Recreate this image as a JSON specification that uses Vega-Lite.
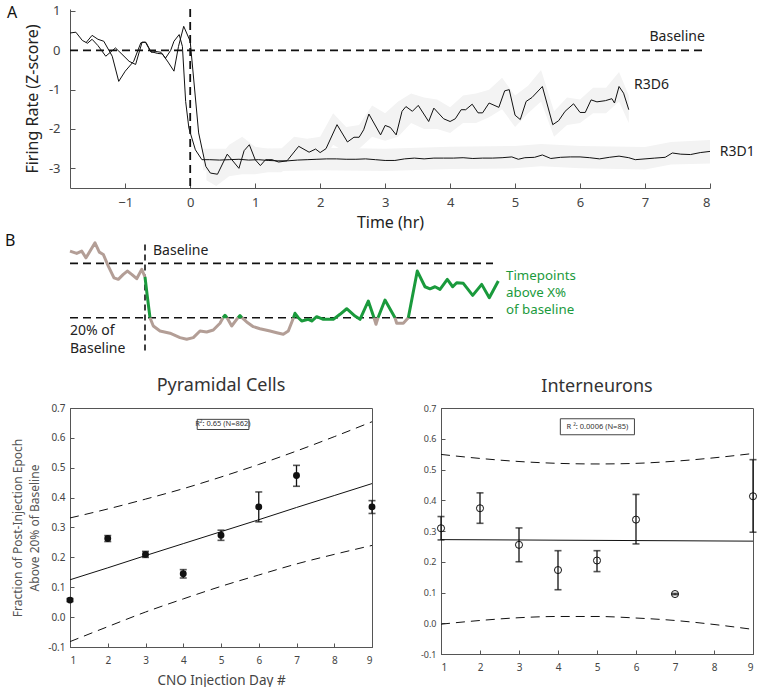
{
  "$schema": "https://vega.github.io/schema/vega-lite/v6.json",
  "padding": {"left": 5, "top": 4, "right": 0, "bottom": 0},
  "config": {
    "font": "Noto Sans",
    "view": {"stroke": null},
    "axis": {"grid": false, "domainColor": "#555", "tickColor": "#555", "labelColor": "#444", "titleColor": "#222", "titleFontWeight": "normal"},
    "title": {"fontWeight": "normal", "color": "#333"}
  },
  "datasets": {
    "d6": [
      {"t": -1.6, "v": 0.2}, {"t": -1.51, "v": 0.38}, {"t": -1.42, "v": 0.28}, {"t": -1.33, "v": 0.23}, {"t": -1.2, "v": -0.15}, {"t": -1.1, "v": -0.79}, {"t": -1.0, "v": -0.53}, {"t": -0.87, "v": -0.28}, {"t": -0.76, "v": 0.19}, {"t": -0.69, "v": 0.21}, {"t": -0.61, "v": -0.03}, {"t": -0.5, "v": -0.08}, {"t": -0.43, "v": -0.09}, {"t": -0.34, "v": -0.3}, {"t": -0.25, "v": -0.53}, {"t": -0.18, "v": 0.1}, {"t": -0.1, "v": 0.61}, {"t": 0.0, "v": 0.23}, {"t": 0.13, "v": -2.1}, {"t": 0.24, "v": -2.95}, {"t": 0.31, "v": -3.12}, {"t": 0.42, "v": -3.15}, {"t": 0.57, "v": -2.64}, {"t": 0.75, "v": -3.0}, {"t": 0.83, "v": -2.55}, {"t": 0.91, "v": -2.4}, {"t": 1.0, "v": -2.78}, {"t": 1.08, "v": -2.93}, {"t": 1.16, "v": -2.78}, {"t": 1.26, "v": -2.78}, {"t": 1.36, "v": -2.84}, {"t": 1.49, "v": -2.81}, {"t": 1.67, "v": -2.44}, {"t": 1.83, "v": -2.59}, {"t": 1.93, "v": -2.51}, {"t": 2.0, "v": -2.6}, {"t": 2.09, "v": -2.5}, {"t": 2.26, "v": -1.89}, {"t": 2.42, "v": -2.33}, {"t": 2.52, "v": -2.21}, {"t": 2.6, "v": -2.21}, {"t": 2.67, "v": -2.02}, {"t": 2.75, "v": -1.62}, {"t": 2.93, "v": -2.15}, {"t": 3.0, "v": -1.91}, {"t": 3.08, "v": -1.96}, {"t": 3.17, "v": -2.15}, {"t": 3.26, "v": -1.55}, {"t": 3.32, "v": -1.43}, {"t": 3.42, "v": -1.55}, {"t": 3.51, "v": -1.4}, {"t": 3.67, "v": -1.81}, {"t": 3.75, "v": -1.47}, {"t": 3.9, "v": -1.74}, {"t": 4.0, "v": -1.81}, {"t": 4.08, "v": -1.74}, {"t": 4.17, "v": -1.51}, {"t": 4.24, "v": -1.51}, {"t": 4.34, "v": -1.37}, {"t": 4.43, "v": -1.59}, {"t": 4.5, "v": -1.59}, {"t": 4.6, "v": -1.34}, {"t": 4.75, "v": -1.45}, {"t": 4.84, "v": -1.03}, {"t": 4.91, "v": -1.0}, {"t": 5.0, "v": -1.65}, {"t": 5.08, "v": -1.76}, {"t": 5.17, "v": -1.3}, {"t": 5.26, "v": -1.2}, {"t": 5.42, "v": -0.92}, {"t": 5.58, "v": -1.89}, {"t": 5.67, "v": -1.79}, {"t": 5.77, "v": -1.55}, {"t": 5.9, "v": -1.36}, {"t": 6.0, "v": -1.58}, {"t": 6.08, "v": -1.58}, {"t": 6.17, "v": -1.26}, {"t": 6.26, "v": -1.31}, {"t": 6.39, "v": -1.28}, {"t": 6.49, "v": -1.23}, {"t": 6.53, "v": -1.34}, {"t": 6.6, "v": -0.92}, {"t": 6.67, "v": -1.09}, {"t": 6.75, "v": -1.51}
    ],
    "d1": [
      {"t": -1.85, "v": 0.44}, {"t": -1.76, "v": 0.46}, {"t": -1.66, "v": 0.25}, {"t": -1.58, "v": 0.18}, {"t": -1.51, "v": 0.28}, {"t": -1.42, "v": 0.12}, {"t": -1.3, "v": -0.15}, {"t": -1.15, "v": 0.06}, {"t": -1.05, "v": -0.1}, {"t": -0.94, "v": -0.28}, {"t": -0.84, "v": -0.36}, {"t": -0.74, "v": 0.21}, {"t": -0.68, "v": 0.2}, {"t": -0.6, "v": -0.05}, {"t": -0.53, "v": -0.03}, {"t": -0.45, "v": -0.05}, {"t": -0.38, "v": -0.2}, {"t": -0.3, "v": 0.0}, {"t": -0.25, "v": 0.23}, {"t": -0.17, "v": 0.4}, {"t": -0.12, "v": 0.1}, {"t": -0.07, "v": -1.3}, {"t": -0.02, "v": -1.98}, {"t": 0.08, "v": -2.53}, {"t": 0.18, "v": -2.78}, {"t": 0.3, "v": -2.78}, {"t": 0.45, "v": -2.79}, {"t": 0.6, "v": -2.78}, {"t": 0.75, "v": -2.77}, {"t": 0.9, "v": -2.79}, {"t": 1.05, "v": -2.78}, {"t": 1.2, "v": -2.8}, {"t": 1.35, "v": -2.81}, {"t": 1.5, "v": -2.81}, {"t": 1.65, "v": -2.79}, {"t": 1.8, "v": -2.78}, {"t": 1.95, "v": -2.77}, {"t": 2.1, "v": -2.76}, {"t": 2.25, "v": -2.76}, {"t": 2.4, "v": -2.77}, {"t": 2.55, "v": -2.77}, {"t": 2.7, "v": -2.76}, {"t": 2.85, "v": -2.78}, {"t": 3.0, "v": -2.8}, {"t": 3.15, "v": -2.8}, {"t": 3.3, "v": -2.76}, {"t": 3.45, "v": -2.74}, {"t": 3.6, "v": -2.76}, {"t": 3.75, "v": -2.74}, {"t": 3.9, "v": -2.74}, {"t": 4.05, "v": -2.74}, {"t": 4.2, "v": -2.73}, {"t": 4.35, "v": -2.75}, {"t": 4.5, "v": -2.74}, {"t": 4.65, "v": -2.74}, {"t": 4.8, "v": -2.73}, {"t": 4.95, "v": -2.71}, {"t": 5.05, "v": -2.77}, {"t": 5.15, "v": -2.73}, {"t": 5.3, "v": -2.72}, {"t": 5.42, "v": -2.66}, {"t": 5.55, "v": -2.75}, {"t": 5.7, "v": -2.72}, {"t": 5.85, "v": -2.71}, {"t": 6.0, "v": -2.71}, {"t": 6.15, "v": -2.73}, {"t": 6.3, "v": -2.76}, {"t": 6.45, "v": -2.72}, {"t": 6.6, "v": -2.69}, {"t": 6.75, "v": -2.73}, {"t": 6.85, "v": -2.78}, {"t": 7.0, "v": -2.76}, {"t": 7.15, "v": -2.74}, {"t": 7.31, "v": -2.72}, {"t": 7.42, "v": -2.61}, {"t": 7.55, "v": -2.64}, {"t": 7.7, "v": -2.65}, {"t": 7.85, "v": -2.6}, {"t": 8.0, "v": -2.57}
    ],
    "b6": [
      {"t": 0.25, "lo": -3.3, "hi": -2.6}, {"t": 0.4, "lo": -3.45, "hi": -2.8}, {"t": 0.6, "lo": -3.2, "hi": -2.4}, {"t": 0.8, "lo": -3.15, "hi": -2.2}, {"t": 1.0, "lo": -3.15, "hi": -2.45}, {"t": 1.2, "lo": -3.1, "hi": -2.5}, {"t": 1.4, "lo": -3.1, "hi": -2.5}, {"t": 1.6, "lo": -2.9, "hi": -2.2}, {"t": 1.8, "lo": -2.9, "hi": -2.25}, {"t": 2.0, "lo": -2.9, "hi": -2.2}, {"t": 2.2, "lo": -2.4, "hi": -1.6}, {"t": 2.4, "lo": -2.6, "hi": -1.95}, {"t": 2.6, "lo": -2.5, "hi": -1.9}, {"t": 2.8, "lo": -2.2, "hi": -1.4}, {"t": 3.0, "lo": -2.3, "hi": -1.6}, {"t": 3.2, "lo": -2.2, "hi": -1.3}, {"t": 3.4, "lo": -1.85, "hi": -1.1}, {"t": 3.6, "lo": -2.0, "hi": -1.2}, {"t": 3.8, "lo": -2.0, "hi": -1.25}, {"t": 4.0, "lo": -2.1, "hi": -1.45}, {"t": 4.2, "lo": -1.85, "hi": -1.15}, {"t": 4.4, "lo": -1.85, "hi": -1.1}, {"t": 4.6, "lo": -1.7, "hi": -1.0}, {"t": 4.8, "lo": -1.5, "hi": -0.7}, {"t": 5.0, "lo": -1.95, "hi": -1.15}, {"t": 5.2, "lo": -1.6, "hi": -0.9}, {"t": 5.4, "lo": -1.3, "hi": -0.5}, {"t": 5.6, "lo": -2.2, "hi": -1.55}, {"t": 5.8, "lo": -1.9, "hi": -1.2}, {"t": 6.0, "lo": -1.85, "hi": -1.25}, {"t": 6.2, "lo": -1.6, "hi": -0.95}, {"t": 6.4, "lo": -1.6, "hi": -0.95}, {"t": 6.6, "lo": -1.3, "hi": -0.55}, {"t": 6.75, "lo": -1.85, "hi": -1.15}
    ],
    "b1": [
      {"t": 0.2, "lo": -3.05, "hi": -2.5}, {"t": 1.0, "lo": -3.08, "hi": -2.5}, {"t": 2.0, "lo": -3.05, "hi": -2.48}, {"t": 3.0, "lo": -3.07, "hi": -2.5}, {"t": 4.0, "lo": -3.02, "hi": -2.45}, {"t": 5.0, "lo": -3.0, "hi": -2.43}, {"t": 5.4, "lo": -2.95, "hi": -2.38}, {"t": 6.0, "lo": -3.0, "hi": -2.43}, {"t": 7.0, "lo": -3.03, "hi": -2.46}, {"t": 7.4, "lo": -2.9, "hi": -2.33}, {"t": 8.0, "lo": -2.88, "hi": -2.28}
    ],
    "sch": [
      {"t": -1.5, "v": 1.181, "seg": 1, "c": "below"}, {"t": -1.366, "v": 1.147, "seg": 1, "c": "below"}, {"t": -1.266, "v": 1.181, "seg": 1, "c": "below"}, {"t": -1.18, "v": 1.082, "seg": 1, "c": "below"}, {"t": -1.0, "v": 1.303, "seg": 1, "c": "below"}, {"t": -0.914, "v": 1.166, "seg": 1, "c": "below"}, {"t": -0.834, "v": 1.132, "seg": 1, "c": "below"}, {"t": -0.734, "v": 0.96, "seg": 1, "c": "below"}, {"t": -0.62, "v": 0.788, "seg": 1, "c": "below"}, {"t": -0.534, "v": 0.765, "seg": 1, "c": "below"}, {"t": -0.434, "v": 0.838, "seg": 1, "c": "below"}, {"t": -0.354, "v": 0.887, "seg": 1, "c": "below"}, {"t": -0.266, "v": 0.838, "seg": 1, "c": "below"}, {"t": -0.166, "v": 0.774, "seg": 1, "c": "below"}, {"t": -0.066, "v": 0.912, "seg": 1, "c": "below"}, {"t": 0.0, "v": 0.8, "seg": 1, "c": "below"},
      {"t": 0.0, "v": 0.8, "seg": 2, "c": "above"}, {"t": 0.04, "v": 0.55, "seg": 2, "c": "above"}, {"t": 0.1, "v": 0.2, "seg": 2, "c": "above"},
      {"t": 0.1, "v": 0.2, "seg": 3, "c": "below"}, {"t": 0.166, "v": 0.078, "seg": 3, "c": "below"}, {"t": 0.3, "v": 0.004, "seg": 3, "c": "below"}, {"t": 0.5, "v": -0.029, "seg": 3, "c": "below"}, {"t": 0.7, "v": -0.094, "seg": 3, "c": "below"}, {"t": 0.834, "v": -0.118, "seg": 3, "c": "below"}, {"t": 0.966, "v": -0.094, "seg": 3, "c": "below"}, {"t": 1.1, "v": 0.004, "seg": 3, "c": "below"}, {"t": 1.234, "v": -0.01, "seg": 3, "c": "below"}, {"t": 1.366, "v": 0.019, "seg": 3, "c": "below"}, {"t": 1.5, "v": 0.118, "seg": 3, "c": "below"}, {"t": 1.56, "v": 0.2, "seg": 3, "c": "below"},
      {"t": 1.56, "v": 0.2, "seg": 4, "c": "above"}, {"t": 1.6, "v": 0.235, "seg": 4, "c": "above"}, {"t": 1.64, "v": 0.2, "seg": 4, "c": "above"},
      {"t": 1.64, "v": 0.2, "seg": 5, "c": "below"}, {"t": 1.734, "v": 0.078, "seg": 5, "c": "below"}, {"t": 1.86, "v": 0.2, "seg": 5, "c": "below"},
      {"t": 1.86, "v": 0.2, "seg": 6, "c": "above"}, {"t": 1.9, "v": 0.23, "seg": 6, "c": "above"}, {"t": 1.94, "v": 0.2, "seg": 6, "c": "above"},
      {"t": 1.94, "v": 0.2, "seg": 7, "c": "below"}, {"t": 2.034, "v": 0.137, "seg": 7, "c": "below"}, {"t": 2.166, "v": 0.068, "seg": 7, "c": "below"}, {"t": 2.3, "v": 0.038, "seg": 7, "c": "below"}, {"t": 2.5, "v": 0.004, "seg": 7, "c": "below"}, {"t": 2.634, "v": -0.021, "seg": 7, "c": "below"}, {"t": 2.766, "v": -0.044, "seg": 7, "c": "below"}, {"t": 2.866, "v": 0.004, "seg": 7, "c": "below"}, {"t": 2.97, "v": 0.2, "seg": 7, "c": "below"},
      {"t": 2.97, "v": 0.2, "seg": 8, "c": "above"}, {"t": 3.0, "v": 0.265, "seg": 8, "c": "above"}, {"t": 3.066, "v": 0.2, "seg": 8, "c": "above"}, {"t": 3.134, "v": 0.151, "seg": 8, "c": "above"}, {"t": 3.266, "v": 0.176, "seg": 8, "c": "above"}, {"t": 3.334, "v": 0.151, "seg": 8, "c": "above"}, {"t": 3.434, "v": 0.215, "seg": 8, "c": "above"}, {"t": 3.566, "v": 0.176, "seg": 8, "c": "above"}, {"t": 3.766, "v": 0.176, "seg": 8, "c": "above"}, {"t": 3.9, "v": 0.25, "seg": 8, "c": "above"}, {"t": 4.034, "v": 0.332, "seg": 8, "c": "above"}, {"t": 4.2, "v": 0.225, "seg": 8, "c": "above"}, {"t": 4.3, "v": 0.176, "seg": 8, "c": "above"}, {"t": 4.466, "v": 0.446, "seg": 8, "c": "above"}, {"t": 4.58, "v": 0.2, "seg": 8, "c": "above"},
      {"t": 4.58, "v": 0.2, "seg": 9, "c": "below"}, {"t": 4.62, "v": 0.103, "seg": 9, "c": "below"}, {"t": 4.66, "v": 0.2, "seg": 9, "c": "below"},
      {"t": 4.66, "v": 0.2, "seg": 10, "c": "above"}, {"t": 4.8, "v": 0.46, "seg": 10, "c": "above"}, {"t": 5.0, "v": 0.2, "seg": 10, "c": "above"},
      {"t": 5.0, "v": 0.2, "seg": 11, "c": "below"}, {"t": 5.034, "v": 0.118, "seg": 11, "c": "below"}, {"t": 5.166, "v": 0.118, "seg": 11, "c": "below"}, {"t": 5.266, "v": 0.2, "seg": 11, "c": "below"},
      {"t": 5.266, "v": 0.2, "seg": 12, "c": "above"}, {"t": 5.446, "v": 0.887, "seg": 12, "c": "above"}, {"t": 5.6, "v": 0.656, "seg": 12, "c": "above"}, {"t": 5.7, "v": 0.626, "seg": 12, "c": "above"}, {"t": 5.8, "v": 0.656, "seg": 12, "c": "above"}, {"t": 5.9, "v": 0.618, "seg": 12, "c": "above"}, {"t": 6.046, "v": 0.765, "seg": 12, "c": "above"}, {"t": 6.154, "v": 0.656, "seg": 12, "c": "above"}, {"t": 6.234, "v": 0.715, "seg": 12, "c": "above"}, {"t": 6.366, "v": 0.706, "seg": 12, "c": "above"}, {"t": 6.554, "v": 0.529, "seg": 12, "c": "above"}, {"t": 6.734, "v": 0.691, "seg": 12, "c": "above"}, {"t": 6.886, "v": 0.494, "seg": 12, "c": "above"}, {"t": 7.066, "v": 0.74, "seg": 12, "c": "above"}
    ],
    "pyr": [
      {"day": 1, "m": 0.057, "lo": 0.052, "hi": 0.062}, {"day": 2, "m": 0.263, "lo": 0.253, "hi": 0.273}, {"day": 3, "m": 0.21, "lo": 0.2, "hi": 0.22}, {"day": 4, "m": 0.145, "lo": 0.131, "hi": 0.159}, {"day": 5, "m": 0.274, "lo": 0.257, "hi": 0.291}, {"day": 6, "m": 0.369, "lo": 0.319, "hi": 0.419}, {"day": 7, "m": 0.474, "lo": 0.438, "hi": 0.508}, {"day": 9, "m": 0.369, "lo": 0.347, "hi": 0.39}
    ],
    "pyrfit": [
      {"day": 1, "f": 0.125, "up": 0.332, "lw": -0.082}, {"day": 2, "f": 0.165, "up": 0.362, "lw": -0.032}, {"day": 3, "f": 0.206, "up": 0.395, "lw": 0.017}, {"day": 4, "f": 0.246, "up": 0.43, "lw": 0.061}, {"day": 5, "f": 0.286, "up": 0.469, "lw": 0.103}, {"day": 6, "f": 0.326, "up": 0.511, "lw": 0.141}, {"day": 7, "f": 0.367, "up": 0.556, "lw": 0.178}, {"day": 8, "f": 0.407, "up": 0.604, "lw": 0.21}, {"day": 9, "f": 0.447, "up": 0.654, "lw": 0.24}
    ],
    "int": [
      {"day": 1, "m": 0.309, "lo": 0.271, "hi": 0.347}, {"day": 2, "m": 0.374, "lo": 0.325, "hi": 0.424}, {"day": 3, "m": 0.255, "lo": 0.2, "hi": 0.31}, {"day": 4, "m": 0.173, "lo": 0.109, "hi": 0.236}, {"day": 5, "m": 0.204, "lo": 0.168, "hi": 0.236}, {"day": 6, "m": 0.337, "lo": 0.258, "hi": 0.419}, {"day": 7, "m": 0.095, "lo": 0.093, "hi": 0.097}, {"day": 9, "m": 0.413, "lo": 0.296, "hi": 0.532}
    ],
    "intfit": [
      {"day": 1, "f": 0.272, "up": 0.549, "lw": -0.003}, {"day": 2, "f": 0.2714, "up": 0.536, "lw": 0.009}, {"day": 3, "f": 0.2708, "up": 0.526, "lw": 0.018}, {"day": 4, "f": 0.2701, "up": 0.52, "lw": 0.022}, {"day": 5, "f": 0.2695, "up": 0.518, "lw": 0.022}, {"day": 6, "f": 0.2689, "up": 0.52, "lw": 0.017}, {"day": 7, "f": 0.2683, "up": 0.527, "lw": 0.009}, {"day": 8, "f": 0.2676, "up": 0.538, "lw": -0.004}, {"day": 9, "f": 0.267, "up": 0.552, "lw": -0.02}
    ]
  },
  "spacing": 19,
  "vconcat": [
    {
      "spacing": 3,
      "vconcat": [
        {
          "width": 640,
          "height": 179,
          "encoding": {
            "x": {"type": "quantitative", "scale": {"domain": [-1.85, 8], "nice": false, "zero": false}, "axis": {"values": [-1, 0, 1, 2, 3, 4, 5, 6, 7, 8], "title": "Time (hr)", "titleFontSize": 16, "labelFontSize": 13, "tickSize": -5, "labelPadding": 13, "titlePadding": 5}},
            "y": {"type": "quantitative", "scale": {"domain": [-3.5, 1.05], "nice": false, "zero": false}, "axis": {"values": [-3, -2, -1, 0, 1], "title": "Firing Rate (Z-score)", "titleFontSize": 16, "labelFontSize": 13, "tickSize": -5, "labelPadding": 15, "titlePadding": 8, "labelExpr": "replace(datum.label, '−', '-')"}}
          },
          "layer": [
            {"data": {"name": "b6"}, "mark": {"type": "area", "color": "#f3f3f3"}, "encoding": {"x": {"field": "t"}, "y": {"field": "lo"}, "y2": {"field": "hi"}}},
            {"data": {"name": "b1"}, "mark": {"type": "area", "color": "#f3f3f3"}, "encoding": {"x": {"field": "t"}, "y": {"field": "lo"}, "y2": {"field": "hi"}}},
            {"data": {"values": [{}]}, "mark": {"type": "rule", "strokeDash": [8, 5], "strokeWidth": 1.8, "color": "#111"}, "encoding": {"x": {"datum": -1.85}, "x2": {"datum": 7.92}, "y": {"datum": 0}}},
            {"data": {"values": [{}]}, "mark": {"type": "rule", "strokeDash": [8, 5], "strokeWidth": 1.8, "color": "#111"}, "encoding": {"x": {"datum": 0}}},
            {"data": {"name": "d6"}, "mark": {"type": "line", "color": "#111", "strokeWidth": 1}, "encoding": {"x": {"field": "t"}, "y": {"field": "v"}}},
            {"data": {"name": "d1"}, "mark": {"type": "line", "color": "#111", "strokeWidth": 1}, "encoding": {"x": {"field": "t"}, "y": {"field": "v"}}},
            {"data": {"values": [{}]}, "mark": {"type": "text", "text": "Baseline", "fontSize": 14, "align": "right", "baseline": "middle", "color": "#222"}, "encoding": {"x": {"datum": 7.92}, "y": {"datum": 0.33}}},
            {"data": {"values": [{}]}, "mark": {"type": "text", "text": "R3D6", "fontSize": 14, "align": "left", "baseline": "middle", "color": "#222"}, "encoding": {"x": {"datum": 6.83}, "y": {"datum": -0.87}}},
            {"data": {"values": [{}]}, "mark": {"type": "text", "text": "R3D1", "fontSize": 14, "align": "left", "baseline": "middle", "color": "#222"}, "encoding": {"x": {"datum": 8.15}, "y": {"datum": -2.58}}},
            {"data": {"values": [{}]}, "mark": {"type": "text", "text": "A", "fontSize": 16, "align": "left", "baseline": "middle", "color": "#111"}, "encoding": {"x": {"datum": -2.82}, "y": {"datum": 0.94}}}
          ]
        },
        {
          "width": 430,
          "height": 112,
          "encoding": {
            "x": {"type": "quantitative", "scale": {"domain": [-1.5, 7.1], "nice": false, "zero": false}, "axis": null},
            "y": {"type": "quantitative", "scale": {"domain": [-0.32, 1.33], "nice": false, "zero": false}, "axis": null}
          },
          "layer": [
            {"data": {"values": [{}]}, "mark": {"type": "rule", "strokeDash": [8, 5], "strokeWidth": 1.6, "color": "#111"}, "encoding": {"x": {"datum": -1.5}, "x2": {"datum": 6.96}, "y": {"datum": 1}}},
            {"data": {"values": [{}]}, "mark": {"type": "rule", "strokeDash": [8, 5], "strokeWidth": 1.6, "color": "#111"}, "encoding": {"x": {"datum": -1.5}, "x2": {"datum": 6.96}, "y": {"datum": 0.2}}},
            {"data": {"values": [{}]}, "mark": {"type": "rule", "strokeDash": [6, 4], "strokeWidth": 1.6, "color": "#111"}, "encoding": {"x": {"datum": 0}, "y": {"datum": 1.28}, "y2": {"datum": -0.32}}},
            {"data": {"name": "sch"}, "mark": {"type": "line", "strokeWidth": 3, "strokeJoin": "round"}, "encoding": {"x": {"field": "t"}, "y": {"field": "v"}, "detail": {"field": "seg"}, "order": {"field": "t"}, "color": {"field": "c", "type": "nominal", "scale": {"domain": ["below", "above"], "range": ["#b39e96", "#1a9a3c"]}, "legend": null}}},
            {"data": {"values": [{}]}, "mark": {"type": "text", "text": "Baseline", "fontSize": 14, "align": "left", "baseline": "middle", "color": "#222"}, "encoding": {"x": {"datum": 0.16}, "y": {"datum": 1.18}}},
            {"data": {"values": [{}]}, "mark": {"type": "text", "text": ["20% of", "Baseline"], "lineHeight": 18, "fontSize": 14, "align": "left", "baseline": "top", "color": "#222"}, "encoding": {"x": {"datum": -1.5}, "y": {"datum": 0.107}}},
            {"data": {"values": [{}]}, "mark": {"type": "text", "text": ["Timepoints", "above X%", "of baseline"], "lineHeight": 17, "fontSize": 13.3, "align": "left", "baseline": "top", "color": "#1a9a3c"}, "encoding": {"x": {"datum": 7.22}, "y": {"datum": 0.916}}},
            {"data": {"values": [{}]}, "mark": {"type": "text", "text": "B", "fontSize": 16, "align": "left", "baseline": "middle", "color": "#111"}, "encoding": {"x": {"datum": -2.8}, "y": {"datum": 1.33}}}
          ]
        }
      ]
    },
    {
      "spacing": 43,
      "hconcat": [
        {
          "width": 302,
          "height": 239,
          "view": {"stroke": "#555"},
          "title": {"text": "Pyramidal Cells", "fontSize": 18, "offset": 8},
          "encoding": {
            "x": {"type": "quantitative", "scale": {"domain": [1, 9], "nice": false, "zero": false}, "axis": {"values": [1, 2, 3, 4, 5, 6, 7, 8, 9], "title": "CNO Injection Day #", "titleFontSize": 13.5, "titleColor": "#444", "labelFontSize": 10, "tickSize": -4, "labelPadding": 12, "titlePadding": 8}},
            "y": {"type": "quantitative", "scale": {"domain": [-0.1, 0.7], "nice": false, "zero": false}, "axis": {"values": [-0.1, 0, 0.1, 0.2, 0.3, 0.4, 0.5, 0.6, 0.7], "title": ["Fraction of Post-Injection Epoch", "Above 20% of Baseline"], "titleFontSize": 12, "titleColor": "#555", "titleLineHeight": 17, "labelFontSize": 10, "tickSize": -4, "labelPadding": 9, "titlePadding": 6, "labelExpr": "replace(datum.label, '−', '-')"}}
          },
          "layer": [
            {"data": {"name": "pyrfit"}, "mark": {"type": "line", "color": "#111", "strokeWidth": 1}, "encoding": {"x": {"field": "day"}, "y": {"field": "f"}}},
            {"data": {"name": "pyrfit"}, "mark": {"type": "line", "color": "#111", "strokeWidth": 1, "strokeDash": [9, 6], "interpolate": "monotone"}, "encoding": {"x": {"field": "day"}, "y": {"field": "up"}}},
            {"data": {"name": "pyrfit"}, "mark": {"type": "line", "color": "#111", "strokeWidth": 1, "strokeDash": [9, 6], "interpolate": "monotone"}, "encoding": {"x": {"field": "day"}, "y": {"field": "lw"}}},
            {"data": {"name": "pyr"}, "mark": {"type": "rule", "color": "#111", "strokeWidth": 1.3}, "encoding": {"x": {"field": "day"}, "y": {"field": "lo"}, "y2": {"field": "hi"}}},
            {"data": {"name": "pyr"}, "mark": {"type": "tick", "orient": "horizontal", "color": "#111", "size": 7, "thickness": 1.6}, "encoding": {"x": {"field": "day"}, "y": {"field": "lo"}}},
            {"data": {"name": "pyr"}, "mark": {"type": "tick", "orient": "horizontal", "color": "#111", "size": 7, "thickness": 1.6}, "encoding": {"x": {"field": "day"}, "y": {"field": "hi"}}},
            {"data": {"name": "pyr"}, "mark": {"type": "point", "shape": "circle", "filled": true, "color": "#111", "size": 48, "opacity": 1}, "encoding": {"x": {"field": "day"}, "y": {"field": "m"}}},
            {"data": {"values": [{}]}, "mark": {"type": "rect", "fill": "white", "stroke": "#444", "strokeWidth": 1}, "encoding": {"x": {"datum": 4.37}, "x2": {"datum": 5.74}, "y": {"datum": 0.662}, "y2": {"datum": 0.628}}},
            {"data": {"values": [{}]}, "mark": {"type": "text", "text": "R²: 0.65 (N=862)", "fontSize": 7.5, "align": "center", "baseline": "middle", "color": "#333"}, "encoding": {"x": {"datum": 5.05}, "y": {"datum": 0.645}}}
          ]
        },
        {
          "width": 312,
          "height": 246,
          "view": {"stroke": "#555"},
          "title": {"text": "Interneurons", "fontSize": 18, "offset": 8},
          "encoding": {
            "x": {"type": "quantitative", "scale": {"domain": [1, 9], "nice": false, "zero": false}, "axis": {"values": [1, 2, 3, 4, 5, 6, 7, 8, 9], "title": null, "labelFontSize": 10, "tickSize": -4, "labelPadding": 12}},
            "y": {"type": "quantitative", "scale": {"domain": [-0.1, 0.7], "nice": false, "zero": false}, "axis": {"values": [-0.1, 0, 0.1, 0.2, 0.3, 0.4, 0.5, 0.6, 0.7], "title": null, "labelFontSize": 9, "tickSize": -4, "labelPadding": 9, "labelExpr": "replace(datum.label, '−', '-')"}}
          },
          "layer": [
            {"data": {"name": "intfit"}, "mark": {"type": "line", "color": "#111", "strokeWidth": 1}, "encoding": {"x": {"field": "day"}, "y": {"field": "f"}}},
            {"data": {"name": "intfit"}, "mark": {"type": "line", "color": "#111", "strokeWidth": 1, "strokeDash": [9, 6], "interpolate": "monotone"}, "encoding": {"x": {"field": "day"}, "y": {"field": "up"}}},
            {"data": {"name": "intfit"}, "mark": {"type": "line", "color": "#111", "strokeWidth": 1, "strokeDash": [9, 6], "interpolate": "monotone"}, "encoding": {"x": {"field": "day"}, "y": {"field": "lw"}}},
            {"data": {"name": "int"}, "mark": {"type": "rule", "color": "#111", "strokeWidth": 1.3}, "encoding": {"x": {"field": "day"}, "y": {"field": "lo"}, "y2": {"field": "hi"}}},
            {"data": {"name": "int"}, "mark": {"type": "tick", "orient": "horizontal", "color": "#111", "size": 7, "thickness": 1.6}, "encoding": {"x": {"field": "day"}, "y": {"field": "lo"}}},
            {"data": {"name": "int"}, "mark": {"type": "tick", "orient": "horizontal", "color": "#111", "size": 7, "thickness": 1.6}, "encoding": {"x": {"field": "day"}, "y": {"field": "hi"}}},
            {"data": {"name": "int"}, "mark": {"type": "point", "shape": "circle", "filled": false, "stroke": "#111", "fill": "white", "fillOpacity": 0, "strokeWidth": 1, "size": 50, "opacity": 1}, "encoding": {"x": {"field": "day"}, "y": {"field": "m"}}},
            {"data": {"values": [{}]}, "mark": {"type": "rect", "fill": "white", "stroke": "#444", "strokeWidth": 1}, "encoding": {"x": {"datum": 4.06}, "x2": {"datum": 5.96}, "y": {"datum": 0.665}, "y2": {"datum": 0.613}}},
            {"data": {"values": [{}]}, "mark": {"type": "text", "text": "R ²: 0.0006 (N=85)", "fontSize": 7.5, "align": "center", "baseline": "middle", "color": "#333"}, "encoding": {"x": {"datum": 5.01}, "y": {"datum": 0.639}}}
          ]
        }
      ]
    }
  ]
}
